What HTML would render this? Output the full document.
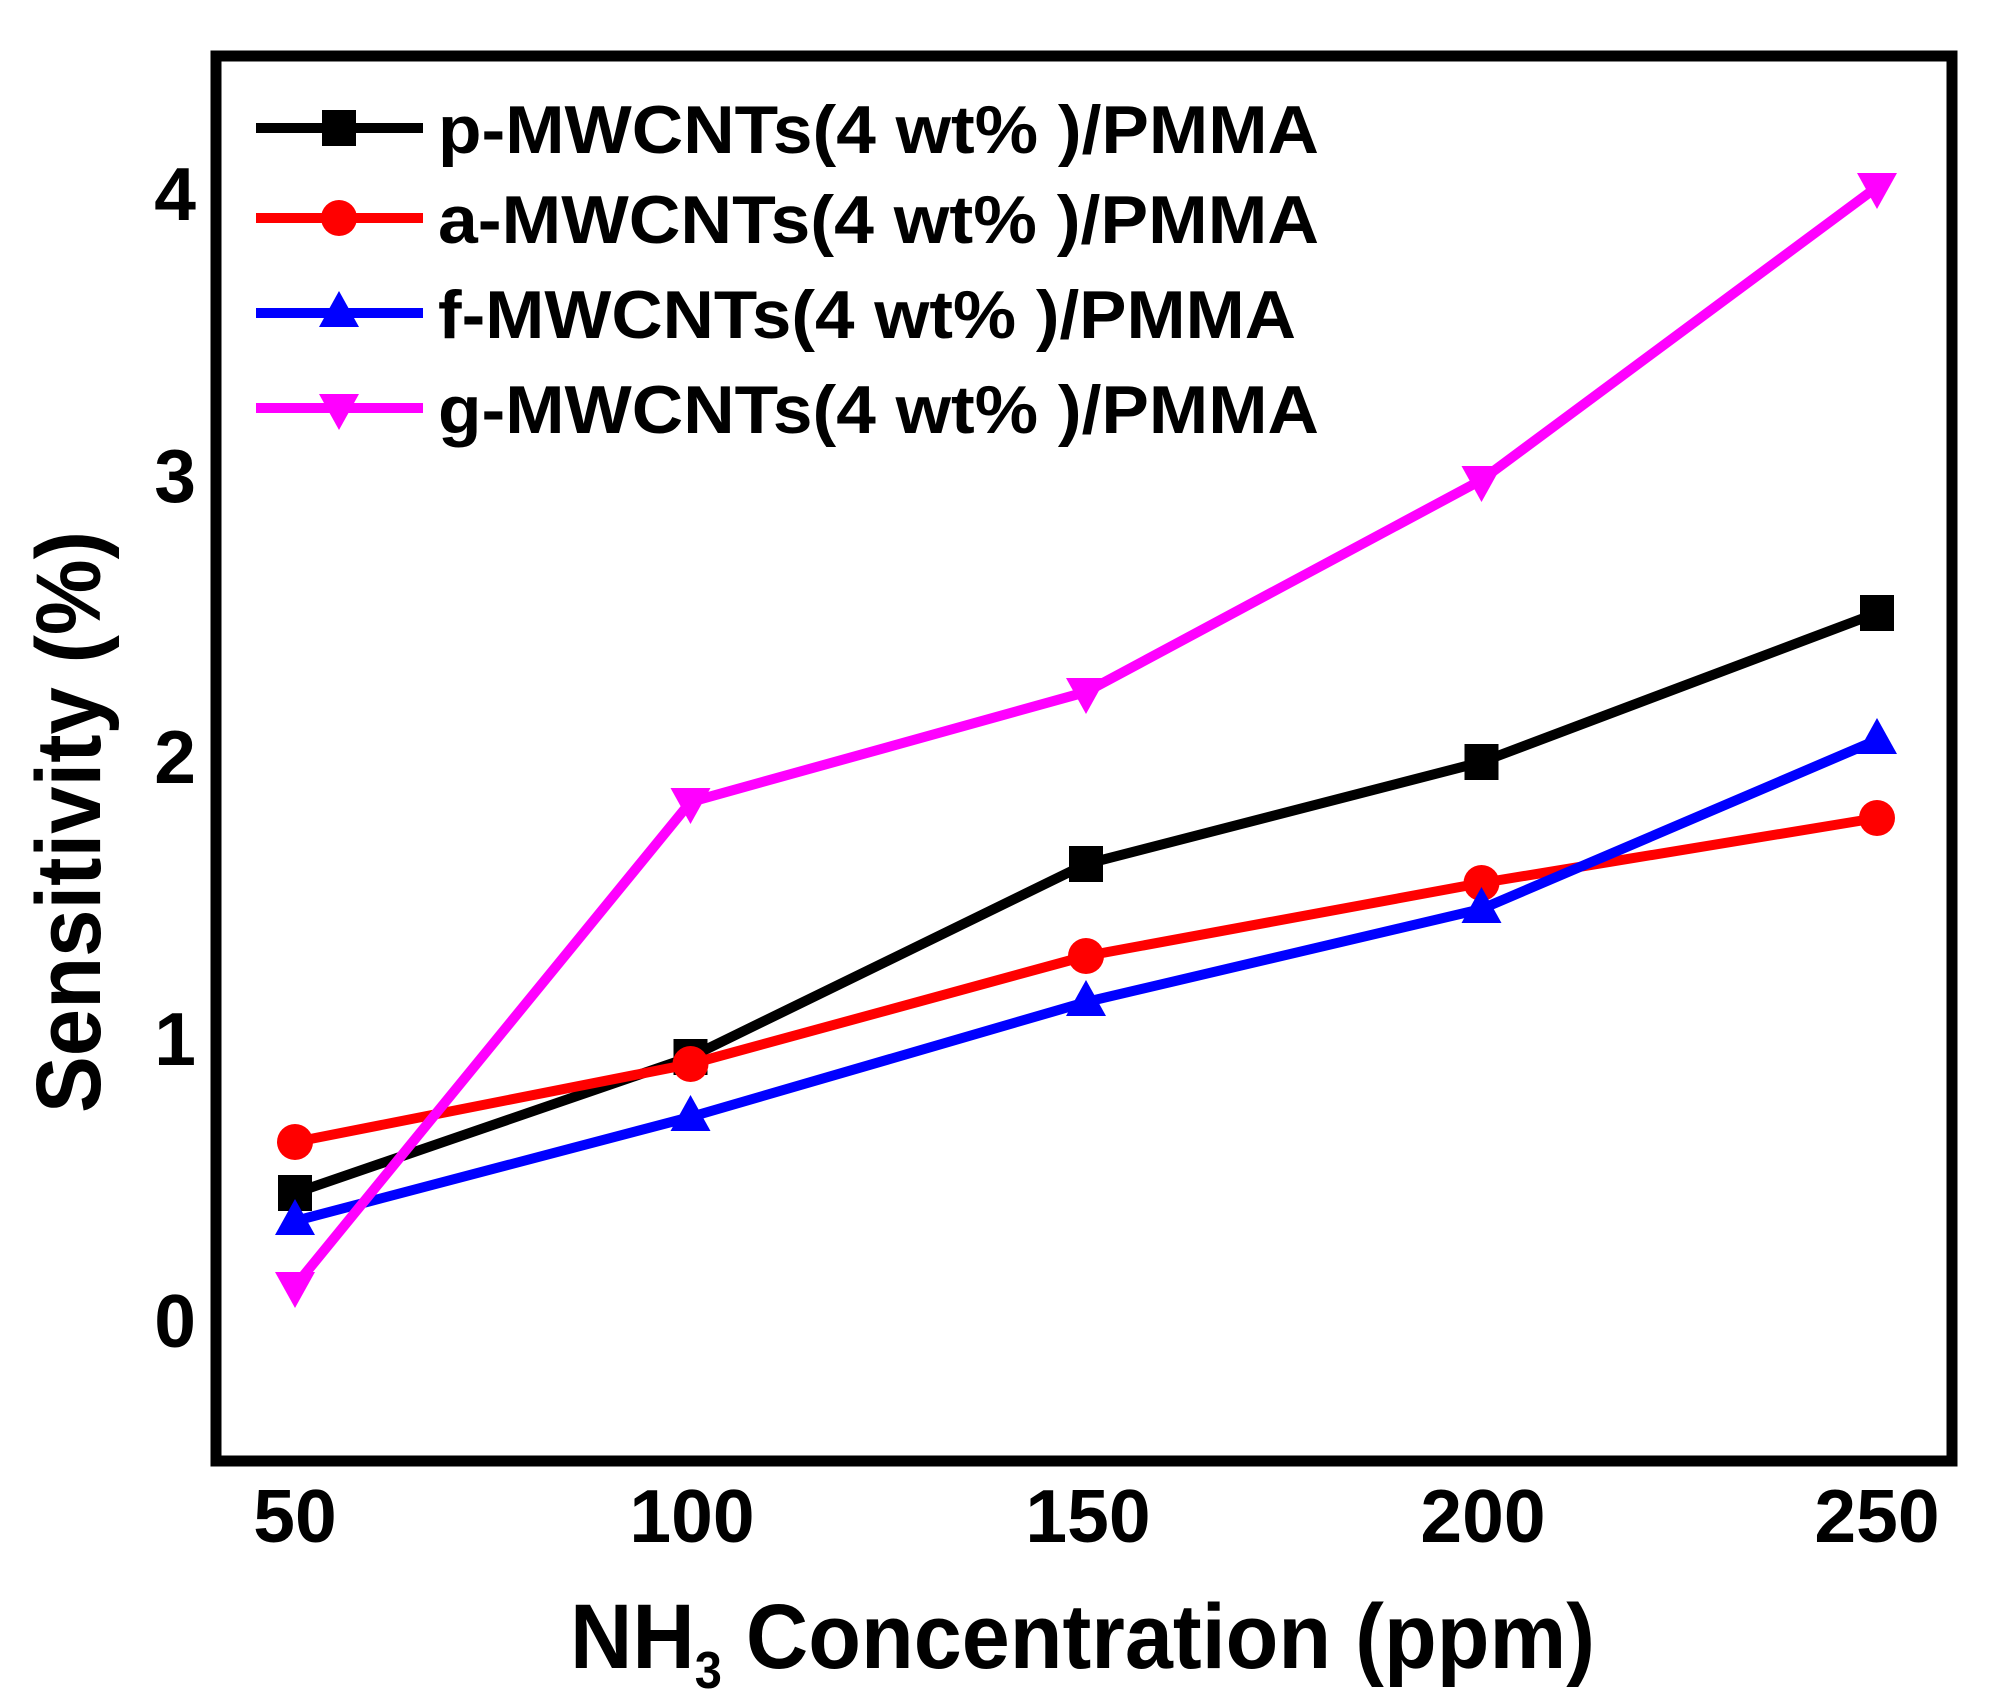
<!DOCTYPE html>
<html><head><meta charset="utf-8"><style>
html,body{margin:0;padding:0;background:#fff;}
svg{display:block;}
text{font-family:"Liberation Sans",Arial,sans-serif;font-weight:bold;fill:#000;}
</style></head><body>
<svg width="2008" height="1708" viewBox="0 0 2008 1708" xmlns="http://www.w3.org/2000/svg">
<defs>
<rect id="sq" x="-17" y="-18" width="34" height="36" fill="#000"/>
<circle id="ci" r="18" fill="#ff0000"/>
<polygon id="tu" points="0,-22 20,14 -20,14" fill="#0000ff"/>
<polygon id="td" points="0,22 20,-14 -20,-14" fill="#ff00ff"/>
</defs>
<rect x="216" y="56" width="1736" height="1405" fill="none" stroke="#000" stroke-width="11"/>

<!-- series -->
<polyline points="295,1193 690.5,1057 1086,864 1481.5,762 1877,613" fill="none" stroke="#000" stroke-width="10" stroke-linejoin="round"/>
<g><use href="#sq" x="295" y="1193"/><use href="#sq" x="690.5" y="1057"/><use href="#sq" x="1086" y="864"/><use href="#sq" x="1481.5" y="762"/><use href="#sq" x="1877" y="613"/></g>
<polyline points="295,1142 690.5,1064 1086,956 1481.5,883 1877,818" fill="none" stroke="#ff0000" stroke-width="10" stroke-linejoin="round"/>
<g><use href="#ci" x="295" y="1142"/><use href="#ci" x="690.5" y="1064"/><use href="#ci" x="1086" y="956"/><use href="#ci" x="1481.5" y="883"/><use href="#ci" x="1877" y="818"/></g>
<polyline points="295,1221 690.5,1117 1086,1002 1481.5,909 1877,740" fill="none" stroke="#0000ff" stroke-width="10" stroke-linejoin="round"/>
<g><use href="#tu" x="295" y="1221"/><use href="#tu" x="690.5" y="1117"/><use href="#tu" x="1086" y="1002"/><use href="#tu" x="1481.5" y="909"/><use href="#tu" x="1877" y="740"/></g>
<polyline points="295,1286 690.5,802 1086,692 1481.5,480 1877,187" fill="none" stroke="#ff00ff" stroke-width="10" stroke-linejoin="round"/>
<g><use href="#td" x="295" y="1286"/><use href="#td" x="690.5" y="802"/><use href="#td" x="1086" y="692"/><use href="#td" x="1481.5" y="480"/><use href="#td" x="1877" y="187"/></g>

<!-- legend -->
<line x1="256" y1="128" x2="423" y2="128" stroke="#000" stroke-width="10"/><use href="#sq" x="339" y="128"/>
<line x1="256" y1="218" x2="423" y2="218" stroke="#ff0000" stroke-width="10"/><use href="#ci" x="339" y="218"/>
<line x1="256" y1="313" x2="423" y2="313" stroke="#0000ff" stroke-width="10"/><use href="#tu" x="339" y="313"/>
<line x1="256" y1="408" x2="423" y2="408" stroke="#ff00ff" stroke-width="10"/><use href="#td" x="339" y="408"/>
<text x="438" y="153" font-size="68" textLength="881" lengthAdjust="spacingAndGlyphs">p-MWCNTs(4 wt% )/PMMA</text>
<text x="438" y="243" font-size="68" textLength="881" lengthAdjust="spacingAndGlyphs">a-MWCNTs(4 wt% )/PMMA</text>
<text x="438" y="338" font-size="68" textLength="858" lengthAdjust="spacingAndGlyphs">f-MWCNTs(4 wt% )/PMMA</text>
<text x="438" y="433" font-size="68" textLength="881" lengthAdjust="spacingAndGlyphs">g-MWCNTs(4 wt% )/PMMA</text>

<!-- y ticks labels -->
<g font-size="75" text-anchor="end">
<text x="196" y="1347">0</text>
<text x="196" y="1065">1</text>
<text x="196" y="783">2</text>
<text x="196" y="502">3</text>
<text x="196" y="220">4</text>
</g>
<!-- x tick labels -->
<g font-size="75" text-anchor="middle">
<text x="295" y="1542">50</text>
<text x="692" y="1542">100</text>
<text x="1088" y="1542">150</text>
<text x="1483" y="1542">200</text>
<text x="1877" y="1542">250</text>
</g>
<!-- axis titles -->
<text x="570" y="1668" font-size="92" textLength="1025" lengthAdjust="spacingAndGlyphs">NH<tspan font-size="52" dy="20">3</tspan><tspan dy="-20"> Concentration (ppm)</tspan></text>
<text transform="translate(100,822) rotate(-90)" x="0" y="0" font-size="92" text-anchor="middle" textLength="582" lengthAdjust="spacingAndGlyphs">Sensitivity (%)</text>
</svg>
</body></html>
